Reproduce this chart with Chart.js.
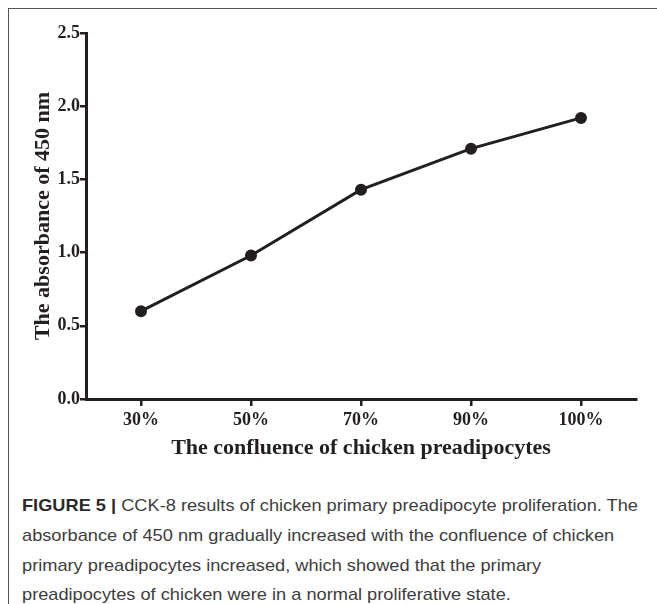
<!DOCTYPE html>
<html>
<head>
<meta charset="utf-8">
<script src="https://cdn.jsdelivr.net/npm/chart.js@4/dist/chart.umd.min.js"></script>
<style>
  html, body { margin: 0; padding: 0; background: #fff; }
  body { width: 657px; height: 604px; position: relative; overflow: hidden; }
  #frame { position: absolute; left: 8px; top: 8px; width: 700px; height: 700px; border-left: 1px solid #555; border-top: 1px solid #555; box-sizing: border-box; }
  #wrap { position: absolute; left: 0; top: 0; width: 657px; height: 470px; }
  .cap { position: absolute; left: 22px; white-space: nowrap; font-family: "Liberation Sans", Arial, sans-serif; font-size: 17px; color: #3d3d3d; transform-origin: 0 50%; line-height: 20px; }
  .cap b { color: #2a2a2a; }
</style>
</head>
<body>
<div id="frame"></div>
<div id="wrap"><canvas id="c" width="657" height="470"></canvas></div>
<div class="cap" id="l1" style="top:496px"><b>FIGURE 5 |</b> CCK-8 results of chicken primary preadipocyte proliferation. The</div>
<div class="cap" id="l2" style="top:526px">absorbance of 450 nm gradually increased with the confluence of chicken</div>
<div class="cap" id="l3" style="top:556px">primary preadipocytes increased, which showed that the primary</div>
<div class="cap" id="l4" style="top:585px">preadipocytes of chicken were in a normal proliferative state.</div>
<script>
const categories = ['30%', '50%', '70%', '90%', '100%'];
const absorbance = [0.60, 0.98, 1.43, 1.71, 1.92];
const yTickValues = [0.0, 0.5, 1.0, 1.5, 2.0, 2.5];
const xTitle = 'The confluence of chicken preadipocytes';
const yTitle = 'The absorbance of 450 nm';

(function () {
  const first = document.getElementById('l1');
  const k = 616 / first.getBoundingClientRect().width;
  document.querySelectorAll('.cap').forEach(el => { el.style.transform = 'scaleX(' + k + ')'; });
})();

const ink = '#231f20';
const tickFont = { family: '"Liberation Serif", "Times New Roman", serif', size: 18, weight: 'bold' };
const titleFont = { family: '"Liberation Serif", "Times New Roman", serif', size: 22, weight: 'bold' };

new Chart(document.getElementById('c'), {
  type: 'line',
  data: {
    labels: categories,
    datasets: [{
      data: absorbance,
      borderColor: ink,
      backgroundColor: ink,
      borderWidth: 3,
      pointRadius: 4.5,
      pointBackgroundColor: ink,
      pointBorderColor: ink,
      tension: 0,
      fill: false
    }]
  },
  options: {
    responsive: false,
    animation: false,
    events: [],
    layout: { padding: { left: 0, top: 33, right: 21, bottom: 0 } },
    plugins: { legend: { display: false }, tooltip: { enabled: false } },
    scales: {
      x: {
        type: 'category',
        offset: true,
        grid: { display: true, drawOnChartArea: false, drawTicks: true, tickLength: 7, color: ink, lineWidth: 2.5, offset: false },
        border: { display: true, color: ink, width: 3 },
        ticks: { color: ink, font: tickFont, padding: 4, maxRotation: 0 },
        title: { display: true, text: xTitle, color: ink, font: titleFont, padding: { top: 0, bottom: 8 } },
        afterFit: s => { s.height = 71; }
      },
      y: {
        min: 0, max: 2.5,
        afterBuildTicks: s => { s.ticks = yTickValues.map(v => ({ value: v })); },
        grid: { display: true, drawOnChartArea: false, drawTicks: true, tickLength: 6, color: ink, lineWidth: 2.5 },
        border: { display: true, color: ink, width: 3 },
        ticks: { color: ink, font: tickFont, padding: 0, callback: v => Number(v).toFixed(1) },
        title: { display: true, text: yTitle, color: ink, font: titleFont, padding: { top: 30, bottom: 0 } },
        afterFit: s => { s.width = 86; }
      }
    }
  }
});
</script>
</body>
</html>
